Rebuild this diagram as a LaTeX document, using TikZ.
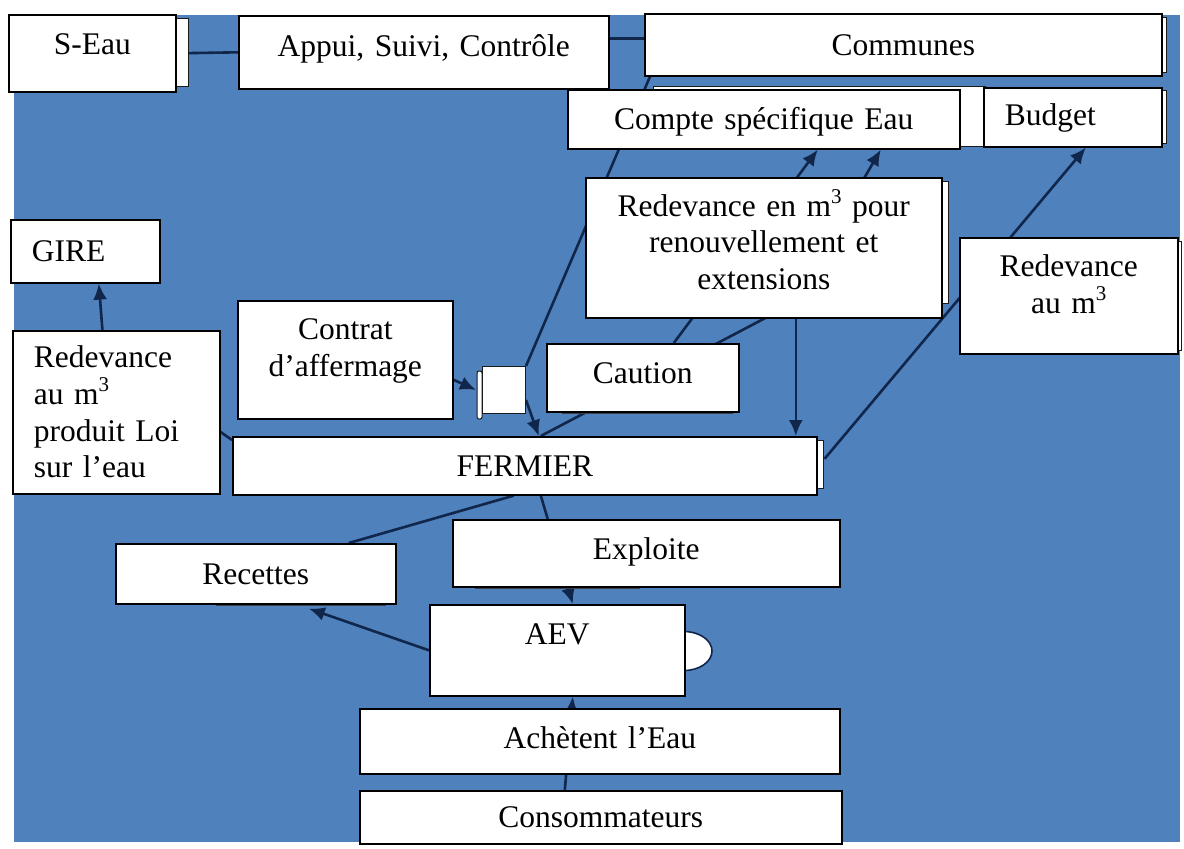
\documentclass[tikz,border=0pt]{standalone}
\usepackage{fontspec}
\setmainfont{Liberation Serif}
\usepackage{tikz}
\usetikzlibrary{arrows.meta,backgrounds}
\definecolor{water}{HTML}{4F81BD}
\definecolor{ink}{HTML}{10264A}
\definecolor{edge}{HTML}{1A1A1A}
\definecolor{shadegray}{HTML}{3A3F48}
\newcommand{\wordfont}{\fontsize{15.75}{18.35}\selectfont}
\newcommand{\cubed}{m\raisebox{6.5pt}{\fontsize{10.5}{10.5}\selectfont 3}}
\tikzset{
  box/.style={draw=black,line width=0.8pt,fill=white,inner sep=0pt,align=center,
    anchor=north west,font=\wordfont,text height=10.4pt,text depth=0pt},
  leftbox/.style={box,align=left,inner xsep=10.5pt},
  docbox/.style={box,draw=edge,line width=0.5pt},
  side/.style={draw=edge,line width=0.5pt,fill=white},
  shade/.style={fill=shadegray},
  link/.style={draw=ink,line width=1.3pt},
  arr/.style={link,-{Latex[length=8pt,width=7pt]}},
}

\begin{document}
\begin{tikzpicture}[x=0.5pt,y=-0.5pt]
  \useasboundingbox (0,0) rectangle (1184,848);
  \begin{scope}[on background layer]
    \fill[white] (0,0) rectangle (1184,848);
    \fill[water] (14,15) rectangle (1180,842);
  \end{scope}

  % side strips and shadows behind the boxes
  \draw[side] (175,18) rectangle (188,86);
  \draw[side] (1161,17) rectangle (1166,72);
  \draw[side] (653,86) rectangle (985,146);
  \draw[side] (1161,90) rectangle (1166,143);
  \draw[side] (941,181) rectangle (948,303);
  \draw[side] (1177,241) rectangle (1181,350);
  \draw[side] (816,440) rectangle (823,488);
  \draw[side,rounded corners=1pt] (477,371) rectangle (482,419);
  \fill[shade] (562,411) rectangle (733,414);
  \fill[shade] (475,586) rectangle (640,589);
  \fill[shade] (216,603) rectangle (386,606);
  \draw[draw=ink,line width=0.8pt,fill=white] (684,651) ellipse [x radius=14pt,y radius=9.75pt];

  % boxes
  \node[box,text width=83.5pt,minimum height=38.5pt,text depth=9pt] (seau) at (8,14) {S-Eau};
  \node[box,text width=185pt,minimum height=36.5pt,text depth=6pt] (appui) at (238,15) {Appui, Suivi, Contrôle};
  \node[box,text width=258.5pt,minimum height=31pt] (communes) at (644,13) {Communes};
  \node[box,text width=196pt,minimum height=29.5pt] (compte) at (567,89) {Compte spécifique Eau};
  \node[leftbox,text width=68pt,minimum height=29.5pt,text depth=2.5pt] (budget) at (983,87) {Budget};
  \node[box,text width=178pt,minimum height=70pt,text depth=42.2pt] (rdvm3) at (585,177)
    {Redevance en \cubed{} pour\\renouvellement et\\extensions};
  \node[box,text width=109pt,minimum height=58pt,text depth=29.35pt] (rdvright) at (959,237)
    {Redevance\\au \cubed};
  \node[leftbox,text width=53.5pt,minimum height=31.5pt] (gire) at (10,219) {GIRE};
  \node[leftbox,text width=82.5pt,minimum height=81.5pt,text depth=55.05pt] (rdvleft) at (12,330)
    {Redevance\\au \cubed\\produit Loi\\sur l’eau};
  \node[box,text width=107.5pt,minimum height=59pt,text depth=30.85pt] (contrat) at (237,300)
    {Contrat\\d’affermage};
  \node[docbox,text width=21.5pt,minimum height=23.5pt] (doc) at (482,366) {};
  \node[box,text width=96pt,minimum height=34pt,text depth=5pt] (caution) at (546,343) {Caution};
  \node[box,text width=292pt,minimum height=29pt] (fermier) at (232,436) {FERMIER};
  \node[box,text width=193.5pt,minimum height=33.5pt,text depth=4.5pt] (exploite) at (452,519) {Exploite};
  \node[box,text width=140pt,minimum height=30pt] (recettes) at (115,543) {Recettes};
  \node[box,text width=127.5pt,minimum height=45.5pt,text depth=16.5pt] (aev) at (429,604) {AEV};
  \node[box,text width=240pt,minimum height=32.5pt,text depth=3.5pt] (achetent) at (359,708) {Achètent l’Eau};
  \node[box,text width=241pt,minimum height=26.5pt] (conso) at (359,790) {Consommateurs};

  % connectors, behind the boxes
  \begin{scope}[on background layer]
    \draw[link] (seau.east) -- (appui.west);
    \draw[link] ([yshift=7pt]appui.east) -- ([yshift=7pt]appui.east -| communes.west);
    \draw[link] ([xshift=3pt]communes.south west) -- (doc.north east);
    \draw[arr] ([yshift=-10pt]contrat.east) -- ([xshift=-3pt]doc.west);
    \draw[arr] ([yshift=-5pt]doc.east) -- ([xshift=7pt]fermier.north);
    \draw[arr] ([xshift=15.5pt]caution.north) -- ([xshift=27pt]compte.south);
    \coordinate (bendB) at (790,305);
    \draw[arr] ([xshift=8pt]fermier.north) -- (bendB) -- ([xshift=58.5pt]compte.south);
    \draw[arr] ([xshift=16pt]rdvm3.south) -- ([xshift=16pt]rdvm3.south |- fermier.north);
    \draw[arr] ([xshift=3.5pt,yshift=3.5pt]fermier.east) -- ([xshift=6.5pt]budget.south);
    \draw[link] ([xshift=-5.5pt]fermier.south) -- ([xshift=46.5pt]recettes.north);
    \draw[arr] ([xshift=8pt]fermier.south) -- ([xshift=7.75pt]aev.north);
    \draw[arr] (aev.west) -- ([xshift=26.5pt,yshift=-2pt]recettes.south);
    \draw[arr] ([xshift=-18pt]conso.north) -- ([xshift=7.75pt]aev.south);
    \coordinate (gbend) at (104,350);
    \draw[arr] ([yshift=-2pt]fermier.north west) -- (gbend) -- ([xshift=6.75pt]gire.south);
  \end{scope}
\end{tikzpicture}
\end{document}
